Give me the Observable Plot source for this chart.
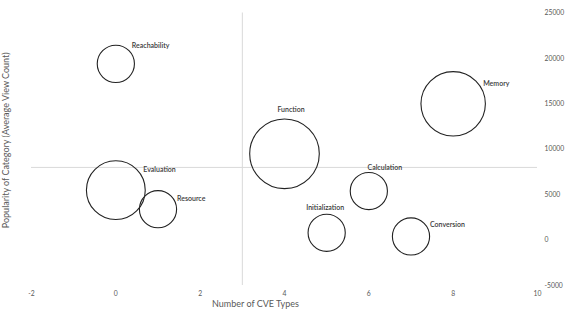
<!DOCTYPE html>
<html><head><meta charset="utf-8">
<script src="https://cdn.jsdelivr.net/npm/d3@7"></script>
<script src="https://cdn.jsdelivr.net/npm/@observablehq/plot@0.6"></script>
<style>html,body{margin:0;padding:0;background:#fff} svg{display:block}</style>
</head><body><div id="chart"></div>
<script>
// Data
const categories = ["Reachability","Evaluation","Resource","Function","Memory","Calculation","Initialization","Conversion"];
const cveTypes   = [0, 0, 1, 4, 8, 6, 5, 7];
const viewCounts = [19400, 5500, 3400, 9500, 15000, 5400, 800, 400];
const bubbleSizes = [2, 5, 2, 7, 6, 2, 2, 2];
const xTicks = [-2, 0, 2, 4, 6, 8, 10];
const yTicks = [-5000, 0, 5000, 10000, 15000, 20000, 25000];
const xCross = 3;
const yCross = 8000;
const xTitle = "Number of CVE Types";
const yTitle = "Popularity of Category (Average View Count)";

const data = categories.map((c, i) => ({name: c, x: cveTypes[i], y: viewCounts[i], size: bubbleSizes[i]}));

// label placement (offsets from bubble centre, px)
const labelPlacement = {
  Reachability:   {anchor: "start",  dx: 16,   dy: -18},
  Evaluation:     {anchor: "start",  dx: 27.5, dy: -20.5},
  Resource:       {anchor: "start",  dx: 19,   dy: -10},
  Function:       {anchor: "middle", dx: 6.5,  dy: -44},
  Memory:         {anchor: "start",  dx: 30,   dy: -20.5},
  Calculation:    {anchor: "middle", dx: 16,   dy: -23},
  Initialization: {anchor: "middle", dx: -1.5, dy: -25},
  Conversion:     {anchor: "start",  dx: 19,   dy: -11.5}
};

const labelMarks = data.map(d => {
  const p = labelPlacement[d.name];
  return Plot.text([d], {x: "x", y: "y", text: "name", textAnchor: p.anchor, dx: p.dx, dy: p.dy,
    fontSize: 7, fill: "#3a3a3a", fontWeight: 600});
});

const chart = Plot.plot({
  width: 571, height: 316,
  marginLeft: 31, marginRight: 34, marginTop: 12.5, marginBottom: 31,
  style: {fontFamily: "Lato, 'Open Sans', sans-serif", fontSize: "6.8px", background: "#fff"},
  x: {domain: [-2, 10]},
  y: {domain: [-5000, 25000]},
  r: {type: "sqrt", domain: [0, 7], range: [0, 34.8]},
  marks: [
    Plot.ruleX([xCross], {y1: -5000, y2: 25000, stroke: "#d9d9d9", strokeWidth: 1}),
    Plot.ruleY([yCross], {x1: -2, x2: 10, stroke: "#d9d9d9", strokeWidth: 1}),
    Plot.axisX(xTicks, {tickSize: 0, tickPadding: 6, color: "#595959", label: null, tickFormat: d => String(d)}),
    Plot.axisY(yTicks, {anchor: "right", tickSize: 0, tickPadding: 7, textAnchor: "start", color: "#595959", label: null, tickFormat: d => String(d)}),
    Plot.dot(data, {x: "x", y: "y", r: "size", stroke: "#222", strokeWidth: 1.1, fill: "none"}),
    ...labelMarks,
    Plot.text([xTitle], {frameAnchor: "bottom", textAnchor: "middle", lineAnchor: "middle", dx: -29, dy: 19, fontSize: 9, fill: "#595959"}),
    Plot.text([yTitle], {frameAnchor: "left", textAnchor: "middle", lineAnchor: "middle", dx: -25, dy: -9, rotate: -90, fontSize: 9, fill: "#595959"})
  ]
});
document.getElementById("chart").appendChild(chart);
</script>
</body></html>
